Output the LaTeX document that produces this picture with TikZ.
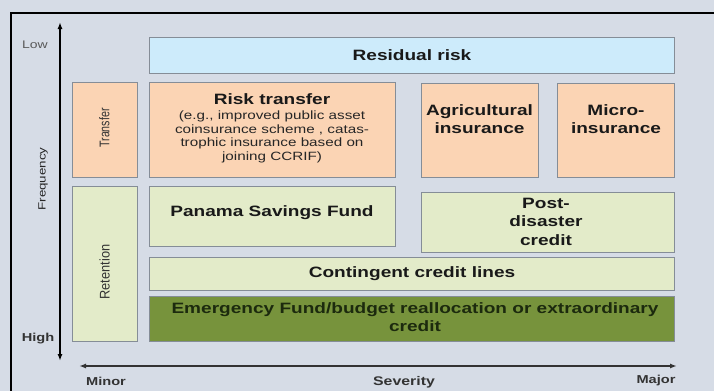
\documentclass[tikz,border=0pt]{standalone}
\usepackage{fontspec}
\setmainfont{Liberation Sans}[FakeStretch=1.27]
\usetikzlibrary{arrows.meta}
\definecolor{bg}{HTML}{D6DCE6}
\definecolor{salmon}{HTML}{FBD4B4}
\definecolor{lgreen}{HTML}{E3EBC9}
\definecolor{lblue}{HTML}{CDEBFB}
\definecolor{dgreen}{HTML}{77933C}
\definecolor{edge}{HTML}{858D97}
\definecolor{dtext}{HTML}{1C2A0E}
\definecolor{axgrey}{HTML}{333333}
\tikzset{
  box/.style={draw=edge, line width=1pt, minimum width=#1, inner sep=0pt},
  big/.style={font=\fontsize{15}{18}\selectfont\bfseries, text=black!90, align=center, inner sep=0pt},
  small/.style={font=\fontsize{12}{13.5}\selectfont, text=black!85, align=center, inner sep=0pt},
  axlab/.style={font=\fontsize{11.5}{13}\selectfont\bfseries, text=axgrey, inner sep=0pt},
  sidelab/.style={font=\fontsize{14}{16}\selectfont, text=black!80, rotate=90, inner sep=0pt},
  arr/.style={{Latex[length=7pt,width=5pt]}-{Latex[length=7pt,width=5pt]}}
}
\begin{document}
\begin{tikzpicture}[x=1pt,y=-1pt]
\fill[bg] (0,0) rectangle (714,391);
\useasboundingbox (0,0) rectangle (714,391);
% frame
\draw[line width=1.4pt] (714,13) -- (11,13) -- (11,391);

% boxes
\node[box=525pt, minimum height=36pt, fill=lblue] (resid) at (411.5,55) {};
\node[box=65pt, minimum height=95pt, fill=salmon] (transfer) at (104.5,129.5) {};
\node[box=246pt, minimum height=95pt, fill=salmon] (risktr) at (272,129.5) {};
\node[box=117pt, minimum height=94pt, fill=salmon] (agri) at (479.5,130) {};
\node[box=117pt, minimum height=94pt, fill=salmon] (micro) at (615.5,130) {};
\node[box=65pt, minimum height=155pt, fill=lgreen] (retention) at (104.5,263.5) {};
\node[box=246pt, minimum height=60pt, fill=lgreen] (panama) at (272,216) {};
\node[box=253pt, minimum height=60pt, fill=lgreen] (post) at (547.5,222) {};
\node[box=525pt, minimum height=33pt, fill=lgreen] (conting) at (411.5,273.5) {};
\node[box=525pt, minimum height=45pt, fill=dgreen] (emerg) at (411.5,318.5) {};

% texts
\node[big] (tresid) at (412,55) {Residual risk};
\node[sidelab] (ttransfer) at (104.5,128) {\scalebox{0.6}[1]{Transfer}};
\node[big] (trisk) at (272,99.5) {Risk transfer};
\node[small, font=\fontsize{12}{13.6}\selectfont] (trisksub) at (272,137) {(e.g., improved public asset\\coinsurance scheme , catas-\\trophic insurance based on\\joining CCRIF)};
\node[big] (tagri) at (479.5,119) {Agricultural\\insurance};
\node[big] (tmicro) at (616,119) {Micro-\\insurance};
\node[sidelab] (tretention) at (104.5,272) {\scalebox{0.72}[1]{Retention}};
\node[big] (tpanama) at (272,213) {Panama Savings Fund};
\node[big, font=\fontsize{15}{18.5}\selectfont\bfseries] (tpost) at (546,221.5) {Post-\\disaster\\credit};
\node[big] (tconting) at (412,273.5) {Contingent credit lines};
\node[big, text=dtext] (temerg) at (415,317) {Emergency Fund/budget reallocation or extraordinary\\credit};

% axes
\coordinate (vtop) at (60,22);
\coordinate (vbot) at (60,361);
\draw[arr, line width=1.4pt, black] (vtop) -- (vbot);
\coordinate (hleft) at (79,366);
\coordinate (hright) at (677,366);
\draw[arr, line width=1.8pt, axgrey] (hleft) -- (hright);

\node[font=\fontsize{11}{13}\selectfont, text=black!65, inner sep=0pt] (low) at (35,45) {Low};
\node[axlab] (high) at (38,339) {High};
\node[font=\fontsize{10.5}{12}\selectfont, text=black!85, rotate=90, inner sep=0pt] (freq) at (43,179) {Frequency};
\node[axlab] (minor) at (106,381) {Minor};
\node[axlab, font=\fontsize{12.5}{14}\selectfont\bfseries] (sev) at (404,382) {Severity};
\node[axlab] (major) at (656,381) {Major};
\end{tikzpicture}
\end{document}
